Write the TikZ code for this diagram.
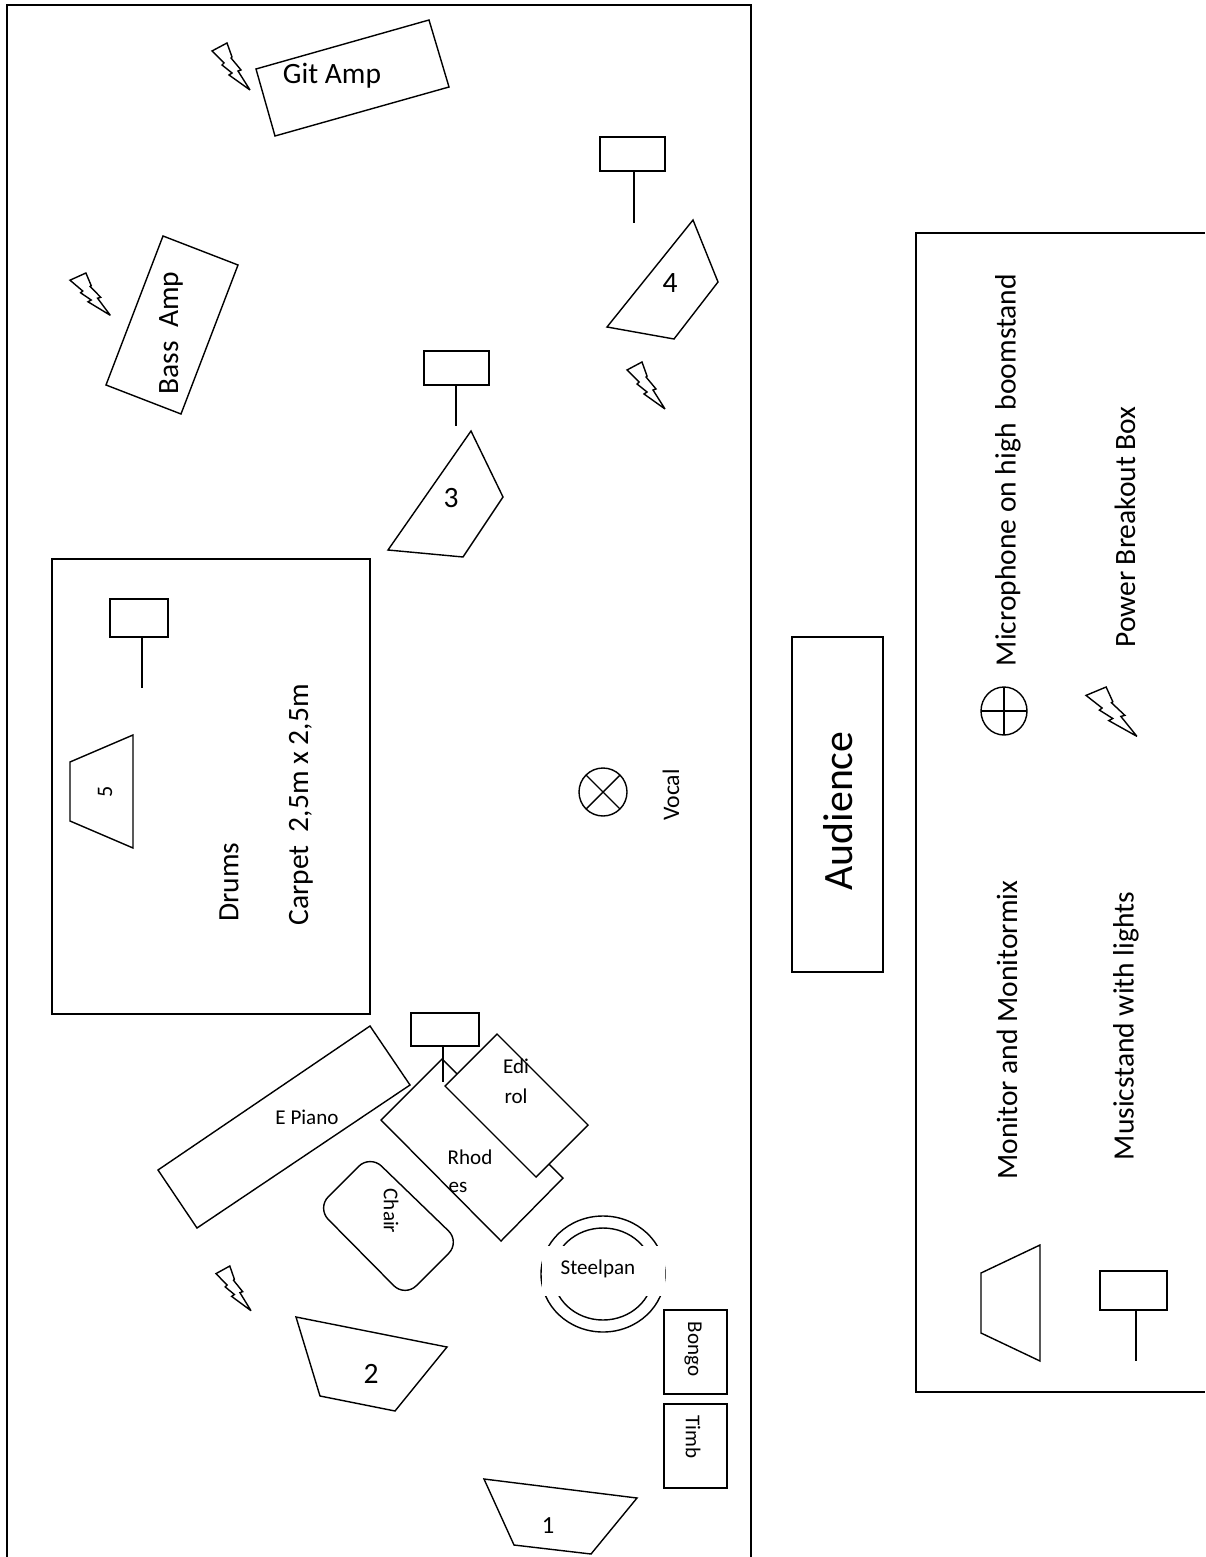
\documentclass[tikz,border=0pt]{standalone}
\usepackage{fontspec}
\setmainfont{Carlito}
\tikzset{
  outline/.style={draw=black, line width=0.8pt, line join=miter},
  frameline/.style={draw=black, line width=0.9pt},
  bigtext/.style={font=\fontsize{23.8}{26}\selectfont, inner sep=0pt},
  midtext/.style={font=\fontsize{16.8}{19}\selectfont, inner sep=0pt},
  smalltext/.style={font=\fontsize{12}{14}\selectfont, inner sep=0pt},
  bolt/.pic={
    \draw[outline, miter limit=3, fill=white] (0,8)--(15,0)--(20,14)--(19,15)--(29,27)--(26,28)--(38,47)--(17,32)--(20,30)--(10,22)--(12,20)--cycle;
  }
}
\begin{document}
\begin{tikzpicture}[x=0.02cm, y=-0.02cm, line cap=butt]
  \useasboundingbox (0,0) rectangle (1205,1557);
  % stage and legend frames
  \draw[frameline] (7,1557)--(7,5)--(751,5)--(751,1557);
  \draw[frameline] (1205,233)--(916,233)--(916,1392)--(1205,1392);
  \draw[frameline] (52,559) rectangle (370,1014);
  \draw[frameline] (792,637) rectangle (883,972);
  % amps and keyboards
  \draw[outline] (256,69)--(429,20)--(449,87)--(275,136)--cycle;
  \draw[outline] (163,236)--(238,265)--(181,414)--(106,385)--cycle;
  \draw[outline] (370,1026)--(410,1085)--(197,1228)--(158,1170)--cycle;
  \draw[outline] (442,1059)--(563,1178)--(501,1241)--(381,1120)--cycle;
  \draw[outline, fill=white] (497,1034)--(588,1125)--(536,1177)--(445,1086)--cycle;
  \draw[outline, rounded corners=0.32cm] (370,1155)--(460,1242)--(405,1297)--(317,1208)--cycle;
  \draw[frameline] (664,1310) rectangle (727,1394);
  \draw[frameline] (664,1404) rectangle (727,1488);
  % monitors
  \draw[outline] (693,220)--(718,282)--(674,339)--(607,327)--cycle;
  \draw[outline] (471,431)--(503,497)--(463,557)--(388,550)--cycle;
  \draw[outline] (296,1317)--(447,1347)--(395,1411)--(320,1396)--cycle;
  \draw[outline] (484,1479)--(637,1498)--(591,1554)--(514,1545)--cycle;
  \draw[outline] (133,735)--(133,848)--(70,821)--(70,762)--cycle;
  \draw[outline] (1040,1245)--(1040,1361)--(981,1333)--(981,1273)--cycle;
  % music stands
  \foreach \sx/\sy/\sw/\sh/\px/\pe in {600/137/65/34/634/223, 424/351/65/34/456/426, 110/599/58/38/142/688, 411/1013/68/33/443/1082, 1100/1271/67/39/1136/1361}{
    \draw[outline] (\sx,\sy) rectangle ++(\sw,\sh);
    \draw[outline] (\px,\sy+\sh)--(\px,\pe);
  }
  % power boxes
  \pic at (212,43) {bolt};
  \pic[xscale=1.06, yscale=0.9] at (70,273) {bolt};
  \pic at (627,362) {bolt};
  \pic[xscale=0.92, yscale=0.95] at (216,1266) {bolt};
  \pic[xscale=1.34, yscale=1.05] at (1086,687) {bolt};
  % steelpan, vocal and legend mic
  \draw[outline] (603,1274) ellipse (62 and 58);
  \draw[outline] (603,1274) ellipse (50 and 46);
  \fill[white] (541.5,1246) rectangle (664.5,1296);
  \draw[outline] (603,792) circle (24);
  \draw[outline] (586,775)--(620,809) (586,809)--(620,775);
  \draw[outline] (1004,711) ellipse (23 and 24);
  \draw[outline] (981,711)--(1027,711) (1004,687)--(1004,735);
  % labels
  \node[midtext] (gitamp) at (332,76) {Git Amp};
  \node[midtext, rotate=90] (bassamp) at (171,333) {Bass\ \ Amp};
  \node[midtext] (mon4) at (670,283) {4};
  \node[midtext] (mon3) at (451,498) {3};
  \node[midtext] (mon2) at (371,1374) {2};
  \node[smalltext, font=\fontsize{14}{16}\selectfont] (mon1) at (548,1526) {1};
  \node[smalltext, font=\fontsize{12.6}{15}\selectfont, rotate=90] (mon5) at (105,792) {5};
  \node[midtext, rotate=90] (drums) at (229,882) {Drums};
  \node[midtext, rotate=90] (carpet) at (301,805) {Carpet\ \ 2,5m x 2,5m};
  \node[midtext, font=\fontsize{13.5}{16}\selectfont, rotate=90] (vocal) at (671,795) {Vocal};
  \node[bigtext, rotate=90] (audience) at (838,811) {Audience};
  \node[smalltext] (epiano) at (307,1117) {E Piano};
  \node[smalltext] (rhodes) at (470,1157) {Rhod};
  \node[smalltext] (rhodesb) at (458,1187) {es};
  \node[smalltext] (ediroltop) at (516,1066) {Edi};
  \node[smalltext] (edirolb) at (516,1096) {rol};
  \node[smalltext, rotate=-90] (chair) at (391,1211) {Chair};
  \node[smalltext] (steelpan) at (598,1269) {Steelpan};
  \node[smalltext, rotate=-90] (bongo) at (693,1349) {Bongo};
  \node[smalltext, rotate=-90] (timb) at (693,1437) {Timb};
  \node[midtext, rotate=90] (micleg) at (1008,470) {Microphone on high\ \ boomstand};
  \node[midtext, rotate=90] (powerleg) at (1125,527) {Power Breakout Box};
  \node[midtext, rotate=90] (monleg) at (1007,1030) {Monitor and Monitormix};
  \node[midtext, rotate=90] (standleg) at (1126,1026) {Musicstand with lights};
\end{tikzpicture}
\end{document}
